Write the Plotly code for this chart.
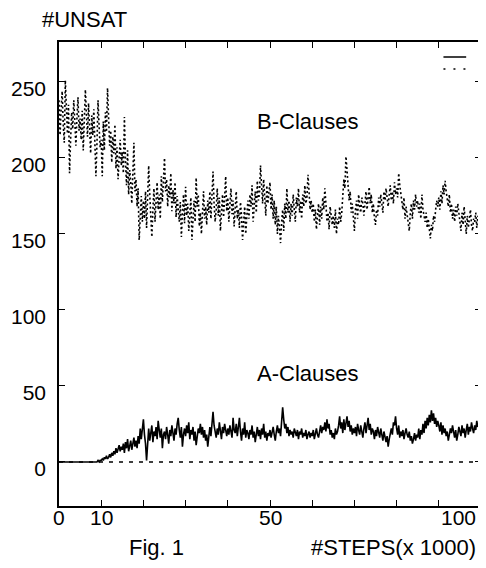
import numpy as np
import plotly.graph_objects as go

# steps in units of 1000, sampled every 250 steps
STEPS = np.arange(400) * 0.25

# B-clauses, unsatisfied count (dotted series) per 5k-step block
B_CLAUSES = [
    238, 215, 232, 244, 222, 210, 251, 228, 216, 235, 190, 212, 230, 219, 238, 224, 208, 226, 240, 218,
    226, 212, 231, 205, 224, 245, 229, 214, 236, 220, 203, 228, 215, 232, 198, 188, 210, 238, 221, 207,
    212, 188, 224, 205, 230, 217, 246, 226, 208, 218, 197, 214, 203, 222, 193, 207, 186, 200, 212, 195,
    204, 190, 227, 198, 182, 205, 176, 192, 184, 170, 196, 210, 178, 186, 168, 180, 146, 162, 175, 158,
    172, 160, 178, 154, 170, 195, 176, 164, 148, 166, 180, 158, 172, 184, 166, 176, 160, 188, 171, 182,
    200, 178, 186, 168, 182, 174, 190, 165, 179, 170, 184, 161, 175, 166, 158, 171, 148, 163, 176, 157,
    181, 162, 170, 152, 166, 174, 146, 160, 172, 158, 187, 168, 176, 155, 164, 150, 170, 178, 160, 168,
    156, 172, 164, 178, 160, 174, 191, 170, 158, 166, 180, 162, 174, 152, 168, 176, 161, 172, 188, 165,
    174, 158, 170, 180, 163, 172, 155, 168, 178, 160, 166, 154, 171, 162, 146, 158, 168, 150, 164, 172,
    160, 176, 168, 182, 158, 170, 178, 164, 185, 172, 176, 195, 180, 170, 186, 174, 162, 182, 170, 178,
    184, 166, 176, 160, 172, 156, 168, 150, 162, 154, 144, 158, 166, 152, 170, 160, 180, 164, 172, 158,
    170, 162, 176, 166, 158, 174, 168, 180, 164, 172, 160, 176, 168, 182, 170, 174, 189, 178, 166, 172,
    164, 170, 158, 166, 153, 162, 170, 156, 168, 160, 174, 166, 180, 170, 158, 164, 153, 168, 160, 156,
    162, 154, 166, 150, 160, 156, 168, 158, 164, 175, 186, 180, 201, 192, 184, 172, 178, 164, 170, 158,
    152, 166, 172, 160, 176, 168, 164, 174, 170, 162, 168, 178, 166, 172, 181, 170, 176, 164, 170, 160,
    156, 166, 162, 174, 168, 176, 170, 164, 178, 172, 180, 174, 168, 176, 182, 172, 178, 170, 184, 176,
    180, 174, 190, 182, 176, 170, 166, 174, 160, 168, 162, 158, 152, 164, 170, 160, 172, 166, 176, 168,
    172, 164, 170, 160, 176, 166, 162, 158, 164, 154, 160, 150, 147, 156, 152, 162, 158, 166, 172, 168,
    174, 166, 178, 170, 182, 176, 185, 178, 172, 168, 176, 164, 170, 160, 166, 158, 168, 162, 170, 164,
    160, 152, 164, 156, 168, 158, 150, 162, 154, 160, 166, 156, 152, 160, 158, 164, 154, 162, 156, 160,
]

# A-clauses, unsatisfied count (solid series)
A_CLAUSES = [
    0, 0, 0, 0, 0, 0, 0, 0, 0, 0, 0, 0, 0, 0, 0, 0, 0, 0, 0, 0,
    0, 0, 0, 0, 0, 0, 0, 0, 0, 0, 0, 0, 0, 0, 0, 0, 0, 1, 0, 1,
    1, 2, 1, 3, 2, 4, 2, 3, 5, 3, 6, 4, 7, 5, 9, 6, 8, 11, 7, 10,
    8, 12, 6, 13, 9, 15, 7, 11, 14, 8, 12, 16, 10, 14, 9, 17, 12, 22, 15, 24,
    28, 18, 12, 1, 16, 22, 14, 19, 24, 13, 20, 17, 23, 15, 27, 21, 16, 22, 9, 18,
    20, 15, 23, 18, 12, 21, 17, 24, 19, 14, 22, 18, 25, 29, 21, 16, 23, 10, 18, 22,
    17, 24, 19, 26, 15, 21, 18, 23, 14, 20, 11, 17, 22, 19, 25, 18, 23, 16, 21, 14,
    18, 10, 19, 23, 17, 26, 33, 24, 20, 16, 22, 18, 26, 21, 15, 23, 19, 25, 20, 17,
    22, 18, 24, 20, 16, 29, 21, 19, 25, 17, 23, 29, 20, 14, 22, 18, 26, 16, 21, 19,
    15, 21, 18, 24, 16, 20, 13, 19, 23, 17, 21, 15, 22, 18, 25, 16, 20, 14, 19, 17,
    21, 16, 19, 23, 18, 14, 20, 24, 19, 22, 17, 26, 36, 28, 22, 25, 19, 23, 17, 21,
    18, 20, 16, 22, 19, 17, 21, 15, 20, 18, 22, 16, 19, 17, 21, 15, 18, 20, 16, 19,
    17, 21, 15, 19, 22, 18, 16, 20, 24, 19, 23, 21, 26, 20, 28, 22, 25, 18, 21, 16,
    19, 15, 22, 18, 20, 24, 30, 22, 26, 19, 28, 21, 25, 30, 23, 27, 20, 24, 18, 22,
    19, 23, 17, 25, 21, 18, 24, 20, 16, 22, 26, 19, 23, 29, 21, 25, 18, 22, 20, 15,
    21, 17, 23, 19, 16, 22, 18, 14, 20, 16, 13, 17, 10, 15, 19, 22, 18, 26, 24, 30,
    22, 18, 24, 16, 20, 17, 21, 15, 19, 22, 18, 16, 20, 14, 17, 12, 15, 19, 14, 18,
    16, 22, 15, 21, 18, 25, 19, 27, 22, 29, 24, 31, 26, 34, 27, 32, 25, 29, 23, 27,
    24, 20, 26, 18, 24, 19, 22, 17, 20, 14, 18, 22, 19, 24, 20, 16, 21, 14, 18, 23,
    20, 17, 24, 19, 22, 16, 21, 25, 18, 23, 20, 26, 22, 19, 24, 21, 27, 23, 25, 24,
]

ZERO_LINE_X = [0, 100]
ZERO_LINE_Y = [0, 0]

X_TICKS = [0, 10, 20, 30, 40, 50, 60, 70, 80, 90, 100]
X_LABELS = [0, 10, 50]  # 100 is drawn right-aligned so it stays on the page
Y_TICKS = [0, 50, 100, 150, 200, 250]

FONT = "Liberation Sans, Arial, Helvetica, sans-serif"
PW, PH = 427, 464  # plot area in px, used to place captions in paper units

fig = go.Figure()
fig.add_trace(go.Scatter(
    x=ZERO_LINE_X, y=ZERO_LINE_Y, mode="lines",
    line={"color": "black", "width": 1.5, "dash": "4px,6px"},
))
fig.add_trace(go.Scatter(
    x=STEPS, y=B_CLAUSES, mode="lines", name="B-Clauses",
    line={"color": "black", "width": 1.6, "dash": "2px,2.5px"},
))
fig.add_trace(go.Scatter(
    x=STEPS, y=A_CLAUSES, mode="lines", name="A-Clauses",
    line={"color": "black", "width": 1.6},
))

annotations = [
    dict(x=59, y=224, text="B-Clauses", showarrow=False, font={"size": 22}),
    dict(x=59, y=58, text="A-Clauses", showarrow=False, font={"size": 22}),
    dict(xref="paper", yref="paper", x=-19 / PW, y=1 + 23 / PH, xanchor="left",
         yanchor="middle", text="#UNSAT", showarrow=False, font={"size": 22}),
    dict(xref="paper", yref="paper", x=424 / PW, y=-11 / PH, xanchor="right",
         yanchor="middle", text="100", showarrow=False, font={"size": 21}),
    dict(xref="paper", yref="paper", x=99 / PW, y=-41 / PH, xanchor="center",
         yanchor="middle", text="Fig. 1", showarrow=False, font={"size": 22}),
    dict(xref="paper", yref="paper", x=424 / PW, y=-41 / PH, xanchor="right",
         yanchor="middle", text="#STEPS(x 1000)", showarrow=False, font={"size": 22}),
]
for v in X_LABELS:
    annotations.append(dict(x=v, xref="x", yref="paper", y=-11 / PH, yanchor="middle",
                            text=str(v), showarrow=False, font={"size": 21}))

# little legend keys in the top right corner (solid = A, dotted = B)
shapes = [
    dict(type="line", xref="paper", yref="paper", x0=389 / PW, x1=412 / PW,
         y0=449 / PH, y1=449 / PH, line={"color": "black", "width": 1.5}),
    dict(type="line", xref="paper", yref="paper", x0=389 / PW, x1=412 / PW,
         y0=437 / PH, y1=437 / PH, line={"color": "black", "width": 1.7, "dash": "2px,8px"}),
]

# page has an 8px body margin, so the figure is 8px smaller than the window
fig.update_layout(
    width=478, height=560,
    margin={"l": 48, "r": 3, "t": 34, "b": 62},
    paper_bgcolor="white", plot_bgcolor="white",
    showlegend=False,
    font={"family": FONT, "size": 21, "color": "black"},
    annotations=annotations,
    shapes=shapes,
)
fig.update_xaxes(
    range=[0, 100], tickvals=X_TICKS, showticklabels=False,
    ticks="inside", ticklen=6, tickwidth=1.3, tickcolor="black",
    showline=True, linecolor="black", linewidth=1.5, mirror="ticks",
    showgrid=False, zeroline=False,
)
fig.update_yaxes(
    range=[-29, 276.3], tickvals=Y_TICKS,
    ticks="inside", ticklen=6, tickwidth=1.3, tickcolor="black",
    showline=True, linecolor="black", linewidth=1.5, mirror="ticks",
    showgrid=False, zeroline=False, ticklabelshift=7, ticklabelstandoff=7,
)

fig.write_html("out.html")
